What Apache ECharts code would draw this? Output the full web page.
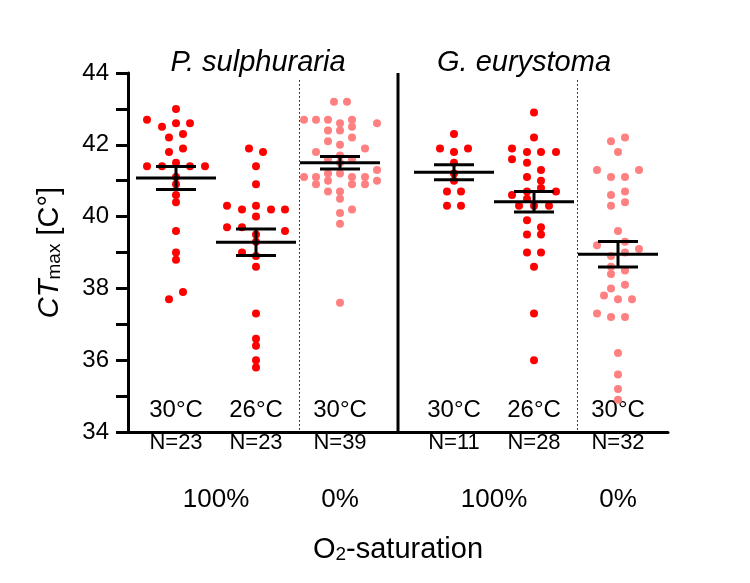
<!DOCTYPE html>
<html>
<head>
<meta charset="utf-8">
<script src="https://cdn.jsdelivr.net/npm/echarts@6/dist/echarts.min.js"></script>
<style>
  html, body { margin: 0; background: #fff; }
  #chart { width: 750px; height: 583px; }
</style>
</head>
<body>
<div id="chart"></div>
<script>
const font = 'Liberation Sans, Arial, sans-serif'

// groups: P. sulphuraria 30°C/100%, 26°C/100%, 30°C/0%, G. eurystoma same order
const species = ['P. sulphuraria', 'G. eurystoma']
const tempLabels = ['30°C', '26°C', '30°C', '30°C', '26°C', '30°C']
const satLabels = ['100%', '0%', '100%', '0%']
const satColors = ['#ff0000', '#ff0000', '#ff8080', '#ff0000', '#ff0000', '#ff8080']

// CTmax values, with their horizontal spread (beeswarm offsets)
const ps30 = [43.0, 42.7, 42.6, 42.6, 42.5, 42.3, 42.2, 41.9, 41.8, 41.5, 41.4, 41.4, 41.4, 41.4, 41.1, 40.9, 40.6, 40.4, 39.6, 39.0, 38.8, 37.9, 37.7]
const ps30Jit = [0, -29, 0, 14, -14, 7, -7, 7, -7, 0, -29, -14, 14, 29, 0, 0, 0, 0, 0, 0, 0, 7, -7]
const ps26 = [41.9, 41.8, 41.4, 40.9, 40.3, 40.3, 40.2, 40.2, 40.2, 40.0, 39.7, 39.7, 39.6, 39.5, 39.3, 39.0, 38.9, 38.6, 37.3, 36.6, 36.4, 36.0, 35.8]
const ps26Jit = [-7, 7, 0, 0, -29, 0, -14, 15, 29, 0, -29, -14, 29, 0, 0, -14, 0, 0, 0, 0, 0, 0, 0]
const psAnox = [43.2, 43.2, 42.7, 42.7, 42.7, 42.7, 42.6, 42.6, 42.5, 42.4, 42.4, 42.2, 42.1, 42.0, 41.9, 41.8, 41.7, 41.6, 41.6, 41.5, 41.3, 41.2, 41.2, 41.1, 41.1, 41.1, 41.1, 41.0, 41.0, 40.9, 40.9, 40.9, 40.7, 40.7, 40.5, 40.2, 40.1, 39.8, 37.6]
const psAnoxJit = [-6, 7, -36, -24, -12, 12, 0, 37, 12, -12, 0, 12, -12, 0, 25, -24, 0, -12, 12, 0, 37, 0, -12, -36, -24, 12, 25, -12, 37, -24, 12, 25, -12, 0, 0, 12, 0, 0, 0]
const ge30 = [42.3, 41.9, 41.9, 41.8, 41.5, 41.2, 41.0, 40.7, 40.7, 40.3, 40.3]
const ge30Jit = [0, -14, 14, 0, 0, 0, 0, -7, 7, -7, 7]
const ge26 = [42.9, 42.2, 41.9, 41.8, 41.8, 41.8, 41.6, 41.5, 41.3, 41.1, 41.0, 40.8, 40.7, 40.7, 40.6, 40.5, 40.3, 40.3, 40.3, 39.9, 39.7, 39.5, 39.5, 39.0, 39.0, 38.6, 37.3, 36.0]
const ge26Jit = [0, 0, -22, -7, 7, 22, -22, -7, 7, -7, 7, 7, -7, 22, -22, -7, -15, 0, 15, -7, 7, -7, 7, -7, 7, 0, 0, 0]
const geAnox = [42.2, 42.1, 41.8, 41.3, 41.3, 41.1, 41.1, 40.7, 40.6, 40.4, 40.3, 39.6, 39.3, 39.2, 39.1, 39.0, 38.9, 38.6, 38.5, 38.4, 38.1, 38.0, 37.8, 37.7, 37.7, 37.3, 37.2, 37.2, 36.2, 35.6, 35.2, 34.9]
const geAnoxJit = [7, -7, 0, -21, 21, -7, 7, 7, -7, 7, -7, 0, 7, -21, 21, 7, -7, -7, 7, -7, 7, -7, -14, 0, 14, -21, -7, 7, 0, 0, 0, 0]

const groups = [ps30, ps26, psAnox, ge30, ge26, geAnox]
const jitters = [ps30Jit, ps26Jit, psAnoxJit, ge30Jit, ge26Jit, geAnoxJit]
// x axis runs 0..540 across the plot; group centres and separators on it
const groupX = [48, 128, 212, 326, 406, 490]
const dottedX = [171, 449]
const speciesX = [270]

const stats = groups.map((vals, i) => {
  const n = vals.length
  const mean = vals.reduce((a, b) => a + b, 0) / n
  const sd = Math.sqrt(vals.reduce((a, b) => a + (b - mean) * (b - mean), 0) / (n - 1))
  return [groupX[i], mean, sd / Math.sqrt(n)]
})

const chart = echarts.init(document.getElementById('chart'))

const dotSeries = groups.map((vals, i) => ({
  type: 'scatter',
  symbolSize: 8,
  itemStyle: { color: satColors[i], opacity: 1 },
  data: vals.map((v, k) => [groupX[i] + jitters[i][k], v]),
  z: 2
}))

chart.setOption({
  animation: false,
  grid: { left: 128, top: 73, right: 82, bottom: 151 },
  xAxis: {
    type: 'value', min: 0, max: 540,
    axisLine: { show: true, onZero: false, lineStyle: { color: '#000', width: 3 } },
    axisTick: { show: false },
    axisLabel: { show: false },
    splitLine: { show: false }
  },
  yAxis: {
    type: 'value', min: 34, max: 44, interval: 1,
    name: '{i|CT}{s|max}{n| [C°]}',
    nameLocation: 'middle',
    nameGap: 64,
    nameTextStyle: {
      rich: {
        i: { fontFamily: font, fontSize: 29, fontStyle: 'italic', color: '#000', verticalAlign: 'bottom', lineHeight: 34 },
        s: { fontFamily: font, fontSize: 19, color: '#000', verticalAlign: 'bottom', lineHeight: 12 },
        n: { fontFamily: font, fontSize: 29, color: '#000', verticalAlign: 'bottom', lineHeight: 34 }
      }
    },
    axisLine: { show: true, lineStyle: { color: '#000', width: 3 } },
    axisTick: { show: true, length: 12, lineStyle: { color: '#000', width: 3 } },
    axisLabel: {
      color: '#000', fontFamily: font, fontSize: 24, margin: 19,
      formatter: v => (v % 2 === 0 ? String(v) : '')
    },
    splitLine: { show: false }
  },
  series: [
    ...dotSeries,
    {
      type: 'custom',
      z: 5,
      data: stats,
      renderItem: (params, api) => {
        const x = api.value(0), m = api.value(1), se = api.value(2)
        const c = api.coord([x, m])
        const hi = api.coord([x, m + se])[1]
        const lo = api.coord([x, m - se])[1]
        const st = { stroke: '#000', lineWidth: 3 }
        return {
          type: 'group',
          children: [
            { type: 'line', shape: { x1: c[0] - 40, y1: c[1], x2: c[0] + 40, y2: c[1] }, style: st },
            { type: 'line', shape: { x1: c[0] - 20, y1: hi, x2: c[0] + 20, y2: hi }, style: st },
            { type: 'line', shape: { x1: c[0] - 20, y1: lo, x2: c[0] + 20, y2: lo }, style: st },
            { type: 'line', shape: { x1: c[0], y1: hi, x2: c[0], y2: lo }, style: st }
          ]
        }
      }
    },
    {
      type: 'custom',
      z: 1,
      data: dottedX.map(x => [x]).concat(speciesX.map(x => [x, 1])),
      renderItem: (params, api) => {
        const solid = api.value(1) === 1
        const top = api.coord([api.value(0), solid ? 44 : 43.8])
        const bot = api.coord([api.value(0), 34])
        const x = solid ? top[0] : Math.round(top[0]) + 0.5
        return {
          type: 'line',
          shape: { x1: x, y1: top[1], x2: x, y2: bot[1] },
          style: solid ? { stroke: '#000', lineWidth: 3 } : { stroke: '#000', lineWidth: 1, lineDash: [1.5, 2.5] }
        }
      }
    }
  ]
})

// texts placed from the axis coordinates
const px = (x, y) => chart.convertToPixel({ xAxisIndex: 0, yAxisIndex: 0 }, [x, y])
const txt = (x, y, text, size, extra) => ({
  type: 'text', x, y,
  style: Object.assign({ text, fill: '#000', fontFamily: font, fontSize: size, align: 'center', verticalAlign: 'middle' }, extra || {})
})
const graphics = []
graphics.push(txt(258, 63, species[0], 29, { fontStyle: 'italic' }))
graphics.push(txt(524, 63, species[1], 29, { fontStyle: 'italic' }))
groupX.forEach((x, i) => {
  const p = px(x, 34.6)
  graphics.push(txt(p[0], p[1], tempLabels[i], 24))
  graphics.push(txt(p[0], 443, 'N=' + groups[i].length, 22))
})
const satX = [(groupX[0] + groupX[1]) / 2, groupX[2], (groupX[3] + groupX[4]) / 2, groupX[5]]
satX.forEach((x, i) => {
  graphics.push(txt(px(x, 34)[0], 500, satLabels[i], 26))
})
graphics.push({
  type: 'text', x: 398, y: 548,
  style: {
    text: '{n|O}{s|2}{n|-saturation}',
    align: 'center', verticalAlign: 'middle',
    rich: {
      n: { fontFamily: font, fontSize: 29, fill: '#000', verticalAlign: 'bottom', lineHeight: 32 },
      s: { fontFamily: font, fontSize: 19, fill: '#000', verticalAlign: 'bottom', lineHeight: 12 }
    }
  }
})
chart.setOption({ graphic: graphics })
</script>
</body>
</html>
